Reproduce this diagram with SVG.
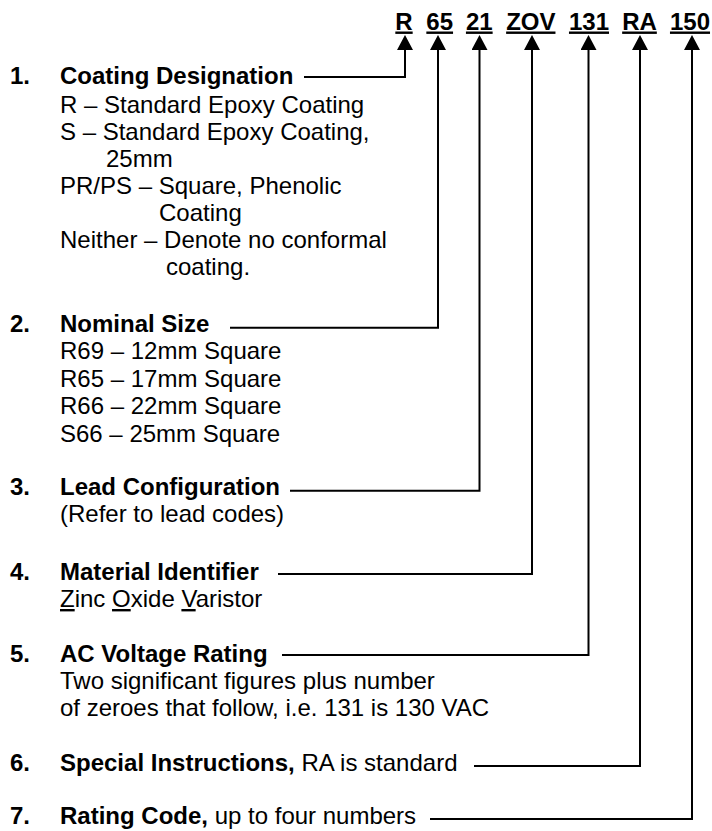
<svg xmlns="http://www.w3.org/2000/svg" width="712" height="831" viewBox="0 0 712 831">
  <style>
    text { font-family: "Liberation Sans", Arial, sans-serif; font-size: 24px; fill: #000; }
    .b { font-weight: bold; }
    .u { text-decoration: underline; }
    .code { font-weight: bold; text-anchor: middle; text-decoration: underline; }
    .conn { fill: none; stroke: #000; stroke-width: 2; marker-end: url(#arrow); }
  </style>
  <defs>
    <marker id="arrow" markerUnits="userSpaceOnUse" viewBox="0 0 15 16" refX="0" refY="8" markerWidth="15" markerHeight="16" orient="auto">
      <path d="M0,0 L15,8 L0,16 Z" fill="#000"/>
    </marker>
  </defs>

  <g id="codes">
    <text class="code" x="404" y="29.5">R</text>
    <text class="code" x="439.7" y="29.5">65</text>
    <text class="code" x="479.3" y="29.5">21</text>
    <text class="code" x="530.8" y="29.5">ZOV</text>
    <text class="code" x="589" y="29.5">131</text>
    <text class="code" x="639.5" y="29.5">RA</text>
    <text class="code" x="690" y="29.5">150</text>
  </g>

  <g id="connectors">
    <path class="conn" d="M304,77 H405 V50"/>
    <path class="conn" d="M230,327.7 H438 V50"/>
    <path class="conn" d="M290,490.7 H479.5 V50"/>
    <path class="conn" d="M278,574 H532 V50"/>
    <path class="conn" d="M282,655 H588.5 V50"/>
    <path class="conn" d="M474,766 H640 V50"/>
    <path class="conn" d="M430,819 H692 V50"/>
  </g>

  <g id="item1">
    <text class="b" x="10" y="84">1.</text>
    <text class="b" x="60" y="84">Coating Designation</text>
    <text x="60" y="113">R – Standard Epoxy Coating</text>
    <text x="60" y="140">S – Standard Epoxy Coating,</text>
    <text x="106" y="167">25mm</text>
    <text x="60" y="194">PR/PS – Square, Phenolic</text>
    <text x="159" y="221">Coating</text>
    <text x="60" y="248">Neither – Denote no conformal</text>
    <text x="166" y="275">coating.</text>
  </g>

  <g id="item2">
    <text class="b" x="10" y="332">2.</text>
    <text class="b" x="60" y="332">Nominal Size</text>
    <text x="60" y="359">R69 – 12mm Square</text>
    <text x="60" y="386.5">R65 – 17mm Square</text>
    <text x="60" y="414">R66 – 22mm Square</text>
    <text x="60" y="441.5">S66 – 25mm Square</text>
  </g>

  <g id="item3">
    <text class="b" x="10" y="495">3.</text>
    <text class="b" x="60" y="495">Lead Configuration</text>
    <text x="60" y="522">(Refer to lead codes)</text>
  </g>

  <g id="item4">
    <text class="b" x="10" y="580">4.</text>
    <text class="b" x="60" y="580">Material Identifier</text>
    <text x="60" y="607"><tspan class="u">Z</tspan>inc <tspan class="u">O</tspan>xide <tspan class="u">V</tspan>aristor</text>
  </g>

  <g id="item5">
    <text class="b" x="10" y="662">5.</text>
    <text class="b" x="60" y="662">AC Voltage Rating</text>
    <text x="60" y="689">Two significant figures plus number</text>
    <text x="60" y="716">of zeroes that follow, i.e. 131 is 130 VAC</text>
  </g>

  <g id="item6">
    <text class="b" x="10" y="771">6.</text>
    <text x="60" y="771"><tspan class="b">Special Instructions,</tspan> RA is standard</text>
  </g>

  <g id="item7">
    <text class="b" x="10" y="824">7.</text>
    <text x="60" y="824"><tspan class="b">Rating Code,</tspan> up to four numbers</text>
  </g>
</svg>
